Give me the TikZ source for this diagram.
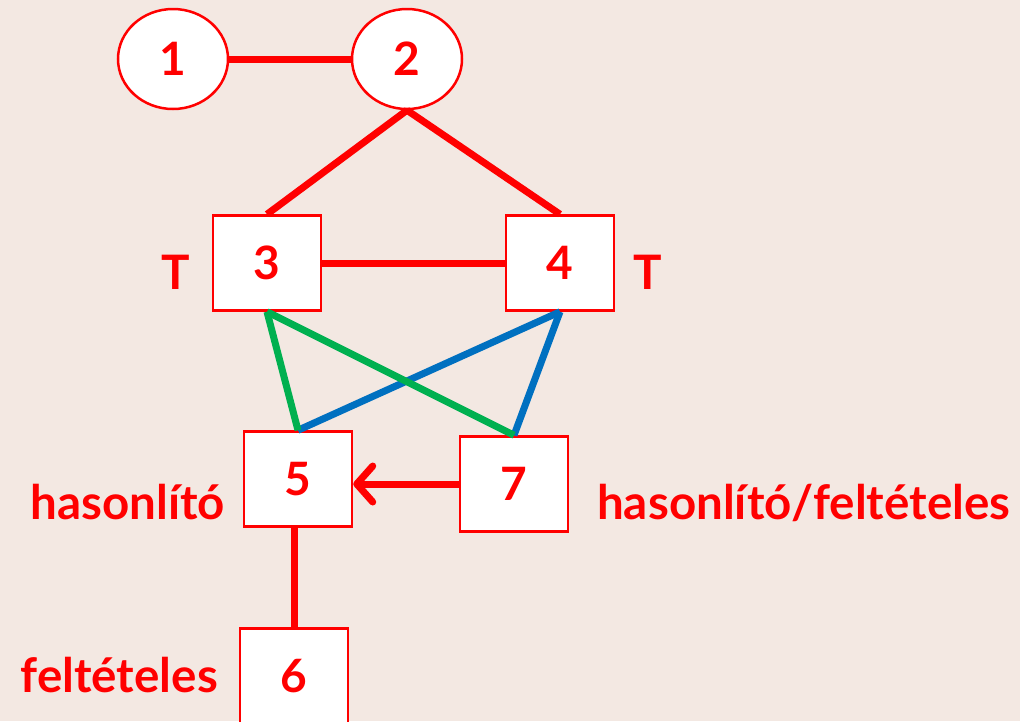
\documentclass[tikz,border=0pt]{standalone}
\usepackage{fontspec}
\setmainfont{Lato}
\usetikzlibrary{arrows.meta,shapes.geometric}
\definecolor{bgpaper}{RGB}{243,232,226}
\definecolor{nodered}{RGB}{255,0,0}
\definecolor{edgegreen}{RGB}{0,176,80}
\definecolor{edgeblue}{RGB}{0,112,192}
\tikzset{
  vertex/.style={draw=nodered, fill=white, line width=2.5pt, text=nodered,
    font=\fontsize{46}{46}\selectfont\bfseries},
  roundv/.style={vertex, ellipse, minimum width=110pt, minimum height=100pt, inner sep=0pt},
  boxv/.style={vertex, rectangle, minimum width=108pt, minimum height=95pt},
  edge/.style={line width=7pt, nodered},
  tag/.style={text=nodered, inner sep=0pt, font=\fontsize{47.5}{47.5}\selectfont\bfseries},
}
\begin{document}
\begin{tikzpicture}[x=1pt,y=-1pt]
  \clip (0,0) rectangle (1020,721);
  \fill[bgpaper] (0,0) rectangle (1020,721);

  % vertices
  \node[roundv] (n1) at (173,59) {1};
  \node[roundv] (n2) at (407,59) {2};
  \node[boxv] (n3) at (267,263) {3};
  \node[boxv] (n4) at (560,263) {4};
  \node[boxv] (n5) at (298,479) {5};
  \node[boxv] (n7) at (514,484) {7};
  \node[boxv] (n6) at (294,676) {6};

  % labels
  \node[tag, anchor=base] (t3) at (176,289) {T};
  \node[tag, anchor=base] (t4) at (648,289) {T};
  \node[tag, anchor=base east] (l5) at (225,519) {hasonlító};
  \node[tag, anchor=base west] (l7) at (597,519) {hasonlító/feltételes};
  \node[tag, anchor=base east] (l6) at (218,692) {feltételes};

  % edges
  \draw[edge] (n1.east) -- (n2.west);
  \draw[edge] (n2.south) -- (n3.north);
  \draw[edge] (n2.south) -- (n4.north);
  \draw[edge] (n3) -- (n4);
  \draw[edge, edgeblue] (n4.south) -- (n5.north);
  \draw[edge, edgeblue] (n4.south) -- (n7.north);
  \draw[edge, edgegreen] (n3.south) -- (n5.north);
  \draw[edge, edgegreen] (n3.south) -- (n7.north);
  \draw[edge, -{Straight Barb[length=16pt,width=36pt,round]}] (n7.west) -- (n7.west -| n5.east);
  \draw[edge] (n6.north |- n5.south) -- (n6.north);
\end{tikzpicture}
\end{document}
